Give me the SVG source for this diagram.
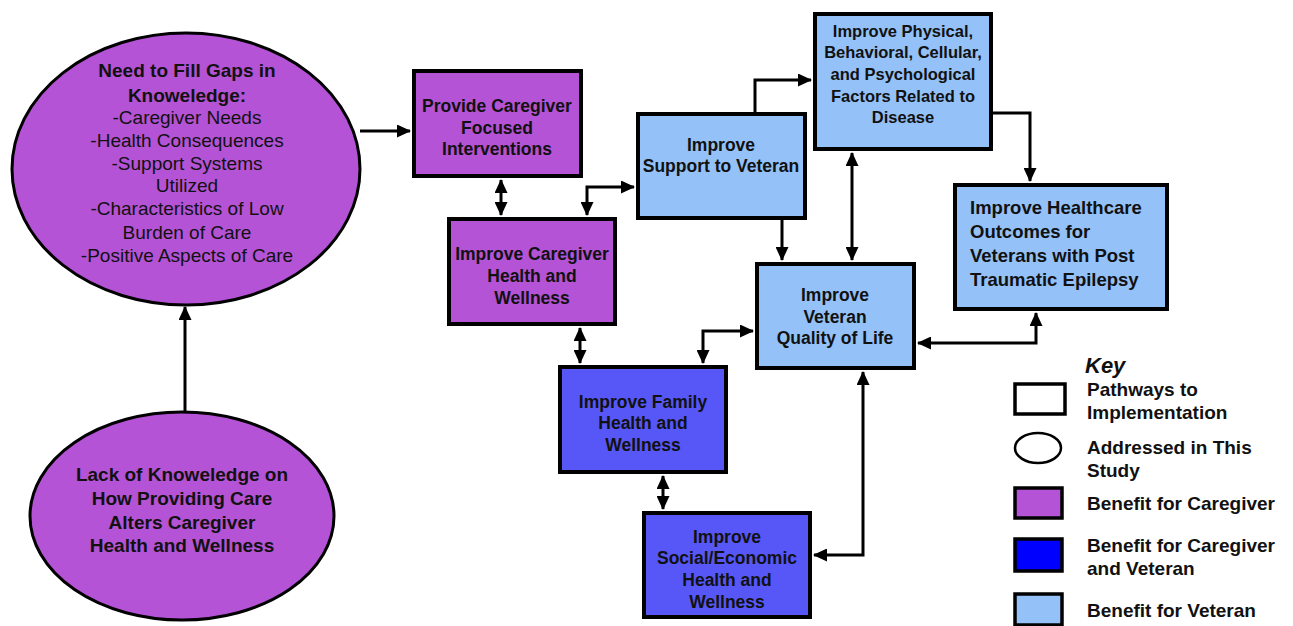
<svg xmlns="http://www.w3.org/2000/svg" width="1293" height="626" viewBox="0 0 1293 626">
<style>
.box{stroke:#000;stroke-width:4}
.pur{fill:#B553D6}
.dblue{fill:#5757F7}
.lblue{fill:#94C1F8}
.ell{stroke:#000;stroke-width:3}
text{font-family:"Liberation Sans",Arial,sans-serif;fill:#111}
.t{font-weight:bold;font-size:17.5px;text-anchor:middle}
.te{font-size:19px;text-anchor:middle}
.tb{font-weight:bold}
.k{font-weight:bold;font-size:19px}
.c{fill:none;stroke:#000;stroke-width:3}
</style>
<defs>
<marker id="ah" markerUnits="userSpaceOnUse" markerWidth="14" markerHeight="13" refX="13" refY="6.5" orient="auto-start-reverse">
<path d="M0,0 L14,6.5 L0,13 z" fill="#000"/>
</marker>
</defs>
<rect width="1293" height="626" fill="#fff"/>

<g id="connectors">
<path class="c" d="M360,131 H410" marker-end="url(#ah)"/>
<path class="c" d="M185,412 V307" marker-end="url(#ah)"/>
<path class="c" d="M501,180 V215" marker-start="url(#ah)" marker-end="url(#ah)"/>
<path class="c" d="M587,215 V187 H634" marker-start="url(#ah)" marker-end="url(#ah)"/>
<path class="c" d="M755,112 V80 H811" marker-end="url(#ah)"/>
<path class="c" d="M782,220 V260" marker-end="url(#ah)"/>
<path class="c" d="M852,153 V260" marker-start="url(#ah)" marker-end="url(#ah)"/>
<path class="c" d="M993,113 H1030 V181" marker-end="url(#ah)"/>
<path class="c" d="M918,343 H1036 V313" marker-start="url(#ah)" marker-end="url(#ah)"/>
<path class="c" d="M580,328 V363" marker-start="url(#ah)" marker-end="url(#ah)"/>
<path class="c" d="M703,363 V331 H753" marker-start="url(#ah)" marker-end="url(#ah)"/>
<path class="c" d="M663,476 V509" marker-start="url(#ah)" marker-end="url(#ah)"/>
<path class="c" d="M814,555 H863 V372" marker-start="url(#ah)" marker-end="url(#ah)"/>
</g>

<g id="gaps">
<ellipse class="ell pur" cx="186" cy="169" rx="174" ry="136"/>
<text class="te tb" x="187" y="77">Need to Fill Gaps in</text>
<text class="te tb" x="187" y="102">Knoweledge:</text>
<text class="te" x="187" y="124">-Caregiver Needs</text>
<text class="te" x="187" y="147">-Health Consequences</text>
<text class="te" x="187" y="170">-Support Systems</text>
<text class="te" x="187" y="192">Utilized</text>
<text class="te" x="187" y="215">-Characteristics of Low</text>
<text class="te" x="187" y="239">Burden of Care</text>
<text class="te" x="187" y="262">-Positive Aspects of Care</text>
</g>

<g id="lack">
<ellipse class="ell pur" cx="182" cy="516" rx="152" ry="104"/>
<text class="te tb" x="182" y="481">Lack of Knoweledge on</text>
<text class="te tb" x="182" y="505">How Providing Care</text>
<text class="te tb" x="182" y="529">Alters Caregiver</text>
<text class="te tb" x="182" y="552">Health and Wellness</text>
</g>

<g id="provide">
<rect class="box pur" x="414" y="71" width="167" height="105"/>
<text class="t" x="497" y="112">Provide Caregiver</text>
<text class="t" x="497" y="134">Focused</text>
<text class="t" x="497" y="155">Interventions</text>
</g>

<g id="support">
<rect class="box lblue" x="638" y="114" width="167" height="104"/>
<text class="t" x="721" y="151">Improve</text>
<text class="t" x="721" y="172">Support to Veteran</text>
</g>

<g id="caregiverHealth">
<rect class="box pur" x="449" y="219" width="166" height="105"/>
<text class="t" x="532" y="260">Improve Caregiver</text>
<text class="t" x="532" y="282">Health and</text>
<text class="t" x="532" y="304">Wellness</text>
</g>

<g id="physical">
<rect class="box lblue" x="815" y="14" width="176" height="135"/>
<text class="t" x="903" y="37" style="font-size:16.5px">Improve Physical,</text>
<text class="t" x="903" y="58" style="font-size:16.5px">Behavioral, Cellular,</text>
<text class="t" x="903" y="80" style="font-size:16.5px">and Psychological</text>
<text class="t" x="903" y="102" style="font-size:16.5px">Factors Related to</text>
<text class="t" x="903" y="123" style="font-size:16.5px">Disease</text>
</g>

<g id="quality">
<rect class="box lblue" x="757" y="264" width="157" height="104"/>
<text class="t" x="835" y="301">Improve</text>
<text class="t" x="835" y="323">Veteran</text>
<text class="t" x="835" y="344">Quality of Life</text>
</g>

<g id="healthcare">
<rect class="box lblue" x="955" y="185" width="212" height="124"/>
<text class="tb" x="970" y="214" style="font-size:18.5px">Improve Healthcare</text>
<text class="tb" x="970" y="238" style="font-size:18.5px">Outcomes for</text>
<text class="tb" x="970" y="262" style="font-size:18.5px">Veterans with Post</text>
<text class="tb" x="970" y="286" style="font-size:18.5px">Traumatic Epilepsy</text>
</g>

<g id="family">
<rect class="box dblue" x="560" y="367" width="166" height="105"/>
<text class="t" x="643" y="408">Improve Family</text>
<text class="t" x="643" y="429">Health and</text>
<text class="t" x="643" y="451">Wellness</text>
</g>

<g id="social">
<rect class="box dblue" x="644" y="513" width="166" height="104"/>
<text class="t" x="727" y="543">Improve</text>
<text class="t" x="727" y="564">Social/Economic</text>
<text class="t" x="727" y="586">Health and</text>
<text class="t" x="727" y="608">Wellness</text>
</g>

<g id="key">
<text x="1085" y="373" style="font-weight:bold;font-style:italic;font-size:22px">Key</text>
<rect class="box" x="1015" y="384" width="50" height="30" fill="#fff" style="stroke-width:3.5"/>
<text class="k" x="1087" y="396">Pathways to</text>
<text class="k" x="1087" y="419">Implementation</text>
<ellipse cx="1038" cy="448" rx="23" ry="15" fill="#fff" stroke="#000" stroke-width="2.5"/>
<text class="k" x="1087" y="454">Addressed in This</text>
<text class="k" x="1087" y="477">Study</text>
<rect class="box pur" x="1015" y="488" width="47" height="30" style="stroke-width:3.5"/>
<text class="k" x="1087" y="510">Benefit for Caregiver</text>
<rect class="box" x="1015" y="539" width="47" height="32" fill="#0000FF" style="stroke-width:3.5"/>
<text class="k" x="1087" y="552">Benefit for Caregiver</text>
<text class="k" x="1087" y="575">and Veteran</text>
<rect class="box lblue" x="1015" y="594" width="47" height="31" style="stroke-width:3.5"/>
<text class="k" x="1087" y="617">Benefit for Veteran</text>
</g>
</svg>
